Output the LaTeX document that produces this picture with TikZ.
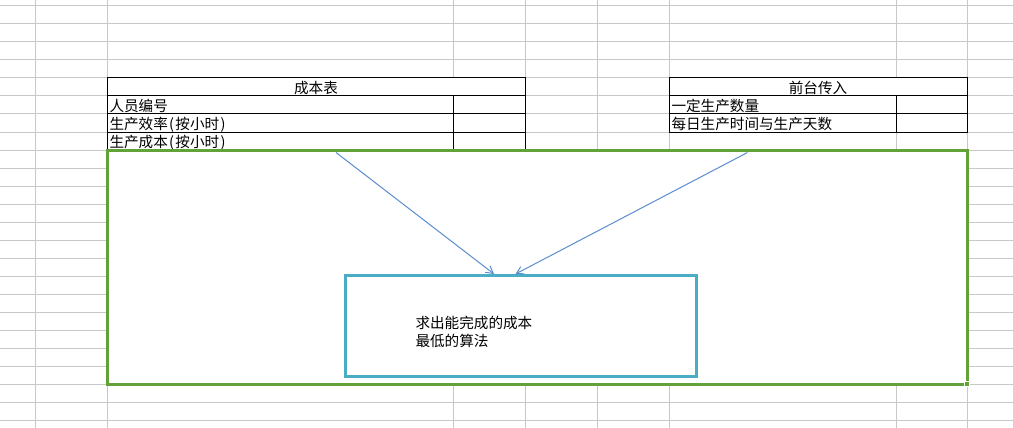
\documentclass[tikz,border=0pt]{standalone}
\usepackage{fontspec}
\newfontfamily\cjk{Noto Sans CJK SC}
\usetikzlibrary{arrows.meta}
\definecolor{gridgray}{RGB}{200,200,200}
\definecolor{framegreen}{RGB}{99,162,57}
\definecolor{boxblue}{RGB}{75,172,198}
\definecolor{arrowblue}{RGB}{92,141,206}
\newcommand{\lpar}{\kern1.3pt(\kern1.3pt}
\newcommand{\rpar}{\kern1.3pt)\kern1.3pt}
\begin{document}
\begin{tikzpicture}[x=1pt, y=-1pt, line width=1pt, >={Straight Barb[length=7pt,width=8pt]},
		cell/.style={anchor=base west, inner sep=0pt, font=\cjk\fontsize{14.6}{18.5}\selectfont},
		head/.style={cell, anchor=base},
		algobox/.style={draw=boxblue, line width=3pt, fill=white, inner sep=0pt, minimum width=351pt, minimum height=100.5pt}]
		\useasboundingbox (0,0) rectangle (1013,428);
		\fill[white] (0,0) rectangle (1013,428);
		\foreach \y in {6,24,...,420} \draw[gridgray] (0,\y) -- (1013,\y);
		\foreach \x in {35,107,453,525,597,669,896,967} \draw[gridgray] (\x,0) -- (\x,428);
		
		\draw[fill=white] (107,78) rectangle (525,150);
		\draw (107,96) -- (525,96);
		\draw (107,114) -- (525,114);
		\draw (107,132) -- (525,132);
		\draw (453,96) -- (453,150);
		\node[head] (costtitle) at (316,93.5) {成本表};
		\node[cell] (staffid) at (109,111.5) {人员编号};
		\node[cell] (rate) at (109,129.5) {生产效率\lpar 按小时\rpar};
		\node[cell] (cost) at (109,147.5) {生产成本\lpar 按小时\rpar};
		
		\draw[fill=white] (669,78) rectangle (967,132);
		\draw (669,96) -- (967,96);
		\draw (669,114) -- (967,114);
		\draw (896,96) -- (896,132);
		\node[head] (inputtitle) at (818,93.5) {前台传入};
		\node[cell] (amount) at (671,111.5) {一定生产数量};
		\node[cell] (days) at (671,129.5) {每日生产时间与生产天数};
		
		\draw[framegreen, line width=3pt, fill=white] (107.5,150.5) rectangle (967,384);
		\draw[white, fill=framegreen] (964.5,381.5) rectangle (969.5,386.5);
		
		\coordinate (costsrc) at (336,152.5);
		\coordinate (inputsrc) at (747.5,152.5);
		\coordinate (costend) at (494,274);
		\coordinate (inputend) at (515.5,274);
		\draw[->, arrowblue] (costsrc) -- (costend);
		\draw[->, arrowblue] (inputsrc) -- (inputend);
		
		\node[algobox] (algo) at (520.5,325.75) {};
		\node[cell, align=left] (algotext) at (415,346.5) {求出能完成的成本\\最低的算法};
	\end{tikzpicture}
\end{document}
